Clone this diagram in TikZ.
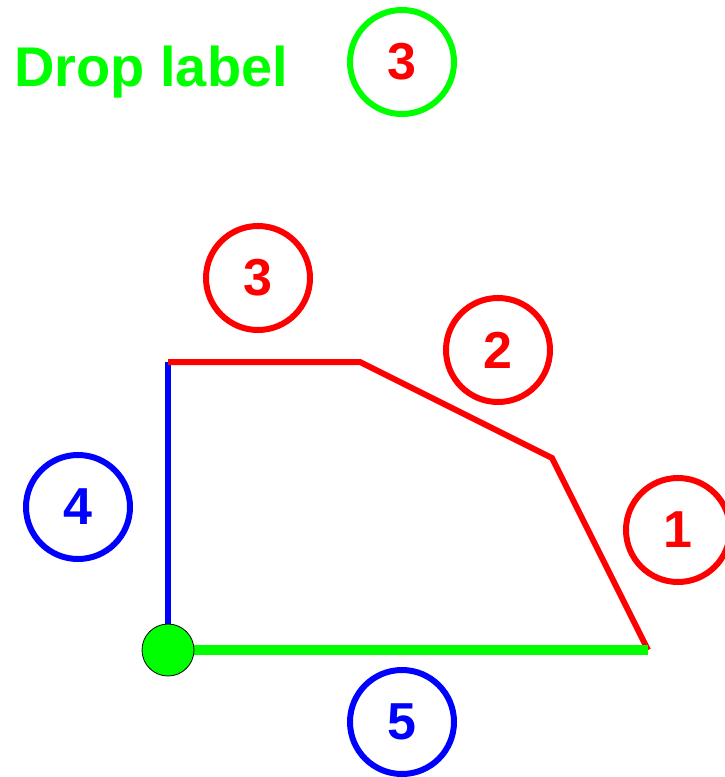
\documentclass[tikz,border=0pt]{standalone}
\usepackage{fontspec}
\setmainfont{Liberation Sans}
\usetikzlibrary{positioning}
\definecolor{pgreen}{RGB}{0,255,0}
\definecolor{pred}{RGB}{255,0,0}
\definecolor{pblue}{RGB}{0,0,255}

\begin{document}
\begin{tikzpicture}[x=1pt,y=-1pt,font=\fontsize{52}{52}\selectfont\bfseries,
  num/.style={circle,draw,line width=6pt,minimum size=104pt,inner sep=0pt,fill=white},
  seg/.style={line width=6pt},
  pt/.style={circle,draw=black,fill=pgreen,minimum size=52pt,inner sep=0pt,line width=0.8pt}]
  \useasboundingbox (0,0) rectangle (724,777);
  % path corners
  \coordinate (p1) at (648,650);
  \coordinate (p2) at (552,458);
  \coordinate (p3) at (360,362);
  \coordinate (p4) at (168,362);
  \coordinate (p5) at (168,650);
  \draw[seg,pblue] (p4) -- (p5);
  \draw[seg,pred,line join=miter] (p1) -- (p2) -- (p3) -- (p4);
  \draw[pgreen,line width=10pt] (p5) -- (p1);
  \node[pt] (start) at (p5) {};
  % edge labels
  \node[num,draw=pred,text=pred] (e1) at (678,530) {1};
  \node[num,draw=pred,text=pred] (e2) at (498,350) {2};
  \node[num,draw=pred,text=pred] (e3) at (258,278) {3};
  \node[num,draw=pblue,text=pblue] (e4) at (78,507) {4};
  \node[num,draw=pblue,text=pblue] (e5) at (402,722) {5};
  % dropped label
  \node[num,draw=pgreen,text=pred] (drop) at (402,62) {3};
  \node[anchor=base west,inner sep=0pt,text=pgreen,font=\fontsize{56}{56}\selectfont\bfseries] (title) at (14,86) {Drop label};
\end{tikzpicture}
\end{document}
